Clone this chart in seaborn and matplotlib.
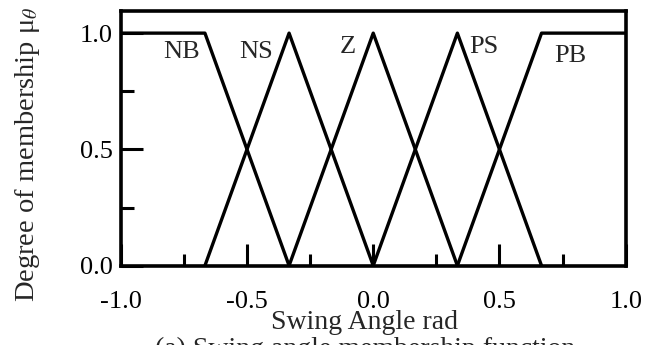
import matplotlib
matplotlib.use("Agg")
import matplotlib.pyplot as plt
from matplotlib.ticker import MultipleLocator, FormatStrFormatter
import pandas as pd
import seaborn as sns

# Fuzzy sets for the swing angle: vertices of each membership function
set_names = ["NB", "NS", "Z", "PS", "PB"]
set_x = [
    [-1.0, -2/3, -1/3],
    [-2/3, -1/3, 0.0],
    [-1/3, 0.0, 1/3],
    [0.0, 1/3, 2/3],
    [1/3, 2/3, 1.0],
]
set_mu = [
    [1.0, 1.0, 0.0],
    [0.0, 1.0, 0.0],
    [0.0, 1.0, 0.0],
    [0.0, 1.0, 0.0],
    [0.0, 1.0, 1.0],
]
# label anchor positions for each set name
label_x = [-0.76, -0.465, -0.10, 0.44, 0.78]
label_y = [0.92, 0.92, 0.94, 0.94, 0.90]

sns.set_style("ticks")
plt.rcParams["font.family"] = ["Liberation Serif", "DejaVu Serif"]
plt.rcParams["mathtext.fontset"] = "stix"

rows = []
for name, xs, ms in zip(set_names, set_x, set_mu):
    for i, (x, m) in enumerate(zip(xs, ms)):
        rows.append({"set": name, "order": i, "angle": x, "mu": m})
df = pd.DataFrame(rows)

fig = plt.figure(figsize=(6.6, 3.45), dpi=100)
ax = fig.add_axes([0.183, 0.230, 0.765, 0.738])

sns.lineplot(data=df, x="angle", y="mu", units="set", estimator=None,
             sort=False, color="black", lw=2.4, ax=ax, legend=False)

for name, lx, ly in zip(set_names, label_x, label_y):
    ax.text(lx, ly, name, ha="center", va="center", fontsize=19)

ax.set_xlim(-1.0, 1.0)
ax.set_ylim(0.0, 1.095)
ax.xaxis.set_major_locator(MultipleLocator(0.5))
ax.xaxis.set_minor_locator(MultipleLocator(0.25))
ax.xaxis.set_major_formatter(FormatStrFormatter("%.1f"))
ax.set_yticks([0.0, 0.5, 1.0])
ax.yaxis.set_minor_locator(MultipleLocator(0.25))
ax.yaxis.set_major_formatter(FormatStrFormatter("%.1f"))
ax.tick_params(which="major", direction="in", length=16, width=2.2,
               labelsize=19, color="black", labelcolor="black")
ax.xaxis.set_tick_params(which="major", pad=18)
ax.yaxis.set_tick_params(which="major", pad=6)
ax.tick_params(which="minor", direction="in", length=9, width=2.2, color="black")
for sp in ax.spines.values():
    sp.set_visible(True)
    sp.set_linewidth(2.6)
    sp.set_color("black")

ax.set_xlabel("Swing Angle rad", fontsize=20)
ax.xaxis.label.set_va("center")
ax.xaxis.set_label_coords(0.483, -0.225)
ax.set_ylabel(r"Degree of membership μ$_{\theta}$", fontsize=20.5)
ax.yaxis.label.set_va("center")
ax.yaxis.set_label_coords(-0.184, 0.438)
fig.text(0.553, -0.014, "(a) Swing angle membership function",
         ha="center", va="center", fontsize=20)

fig.savefig("out.png", dpi=100)
